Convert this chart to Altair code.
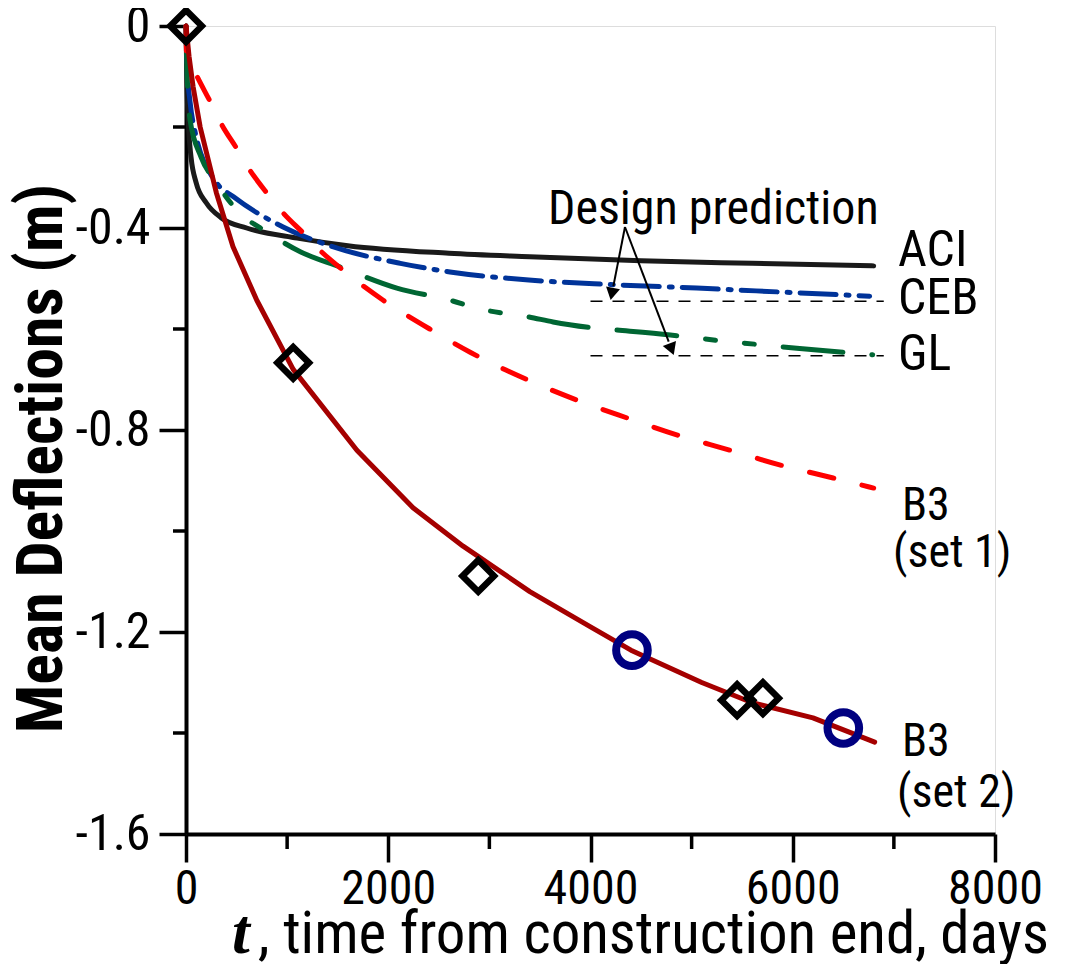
import altair as alt
import pandas as pd
import math

# ---------------- data ----------------
aci_t = [0, 10, 25, 50, 100, 200, 350, 600, 1100, 1600, 2600, 3400, 4500, 5600, 6800]
aci_v = [0, -0.12, -0.2, -0.26, -0.31, -0.35, -0.38, -0.40, -0.42, -0.435, -0.45, -0.457, -0.465, -0.47, -0.475]

ceb_t = [0, 10, 40, 90, 300, 470, 960, 1450, 2120, 2610, 3390, 4200, 5050, 5900, 6760]
ceb_v = [0, -0.08, -0.15, -0.21, -0.31, -0.338, -0.398, -0.437, -0.47, -0.487, -0.503, -0.512, -0.519, -0.527, -0.535]

gl_t = [0, 10, 40, 150, 300, 500, 800, 1130, 1520, 2085, 2610, 2900, 3390, 3630, 4790, 5050, 6040, 6790]
gl_v = [0, -0.09, -0.186, -0.26, -0.31, -0.364, -0.408, -0.447, -0.477, -0.519, -0.543, -0.560, -0.576, -0.586, -0.612, -0.618, -0.638, -0.651]

b31_t = [0, 5, 110, 240, 355, 500, 630, 800, 960, 1160, 1355, 1550, 1740, 1950, 2410, 2810, 3370, 3870, 4360, 4860, 5380, 5870, 6400, 6800]
b31_v = [0, -0.055, -0.10, -0.15, -0.196, -0.242, -0.285, -0.331, -0.370, -0.41, -0.45, -0.483, -0.513, -0.543, -0.60, -0.646, -0.70, -0.741, -0.776, -0.81, -0.84, -0.869, -0.895, -0.915]

b32_t = [0, 30, 70, 140, 300, 465, 700, 1060, 1690, 2245, 2740, 3400, 4000, 4400, 5100, 5600, 6200, 6810]
b32_v = [0, -0.06, -0.12, -0.20, -0.33, -0.437, -0.543, -0.68, -0.84, -0.954, -1.03, -1.12, -1.19, -1.236, -1.30, -1.34, -1.37, -1.418]

diamond_t = [0, 1060, 2890, 5450, 5705]
diamond_v = [0, -0.667, -1.089, -1.335, -1.331]

circle_t = [4410, 6500]
circle_v = [-1.236, -1.39]

design_t0 = [4000, 4000]
design_t1 = [6900, 6900]
design_v = [-0.545, -0.653]

arrow_t0 = [4341, 4341]
arrow_v0 = [-0.398, -0.398]
arrow_t1 = [4203, 4816]
arrow_v1 = [-0.5386, -0.6475]

label_text = ["ACI", "CEB", "GL"]
label_t = [7041, 7041, 7041]
label_v = [-0.4455, -0.5406, -0.6515]

set_text = ["B3", "(set 1)", "B3", "(set 2)"]
set_t = [7080, 6991, 7080, 7031]
set_v = [-0.95, -1.0436, -1.418, -1.519]

y_major = [0, -0.4, -0.8, -1.2, -1.6]
y_minor = [-0.2, -0.6, -1.0, -1.4]
x_major = [0, 2000, 4000, 6000, 8000]
x_minor = [1000, 3000, 5000, 7000]

# ---------------- layout ----------------
W, H = 809, 808
XDOM = [0, 8000]
YDOM = [-1.6, 0]
FONT = "Roboto Condensed"

xs = alt.Scale(domain=XDOM, nice=False, zero=False)
ys = alt.Scale(domain=YDOM, nice=False, zero=False)

AX = alt.Axis(values=x_major, format="d", title=None, tickSize=28,
              tickWidth=3.5, domainWidth=4, labelPadding=3,
              labelFontSize=48, labelFont=FONT, labelColor="black",
              domainColor="black", tickColor="black", grid=False, labelFlush=False)
AY = alt.Axis(values=y_major, title="Mean Deflections (m)",
              labelExpr="datum.value == 0 ? '0' : '-' + format(abs(datum.value), '.1f')",
              tickSize=27, tickWidth=3.5, domainWidth=4, labelPadding=9,
              labelFontSize=50, labelFont=FONT, labelColor="black",
              domainColor="black", tickColor="black", grid=False,
              titleFont=FONT, titleFontSize=64, titleFontWeight="bold",
              titleColor="black", titleAngle=270, titleX=-144, titleY=432,
              titleAlign="center", titleBaseline="middle", labelFlush=False)

def X(field):
    return alt.X(field, scale=xs, axis=AX)

def Y(field):
    return alt.Y(field, scale=ys, axis=AY)

def line(t, v, color, dash=None, interp="monotone", width=5):
    df = pd.DataFrame({"t": t, "v": v})
    kw = dict(color=color, strokeWidth=width, strokeCap="round", strokeJoin="round", interpolate=interp)
    if dash:
        kw["strokeDash"] = dash
    return alt.Chart(df).mark_line(**kw).encode(x=X("t:Q"), y=Y("v:Q"))

ym = alt.Chart(pd.DataFrame({"v": y_minor})).mark_rule(color="black", strokeWidth=3.5).encode(
    y=Y("v:Q"), x=alt.value(-13), x2=alt.value(0))
xm = alt.Chart(pd.DataFrame({"t": x_minor})).mark_rule(color="black", strokeWidth=3.5).encode(
    x=X("t:Q"), y=alt.value(H), y2=alt.value(H + 15))

design = alt.Chart(pd.DataFrame({"t0": design_t0, "t1": design_t1, "v": design_v})).mark_rule(
    color="black", strokeWidth=1.6, strokeDash=[12, 10]).encode(
    x=X("t0:Q"), x2="t1:Q", y=Y("v:Q"))

aci = line(aci_t, aci_v, "#1a1a1a")
ceb = line(ceb_t, ceb_v, "#003399", dash=[36, 10, 3, 10])
gl = line(gl_t, gl_v, "#006633", dash=[60, 29, 60, 29, 10, 29, 10, 29])
b31 = line(b31_t, b31_v, "#ff0000", dash=[25, 29])
b32 = line(b32_t, b32_v, "#a50000", interp="linear")

# arrows
px_t = W / (XDOM[1] - XDOM[0])
px_v = H / (YDOM[1] - YDOM[0])
tri_size = 200
tri_h = math.sqrt(3) * (math.sqrt(tri_size) / 2) / 2
rows = []
for a0, b0, a1, b1 in zip(arrow_t0, arrow_v0, arrow_t1, arrow_v1):
    dx = (a1 - a0) * px_t
    dy = -(b1 - b0) * px_v
    L = math.hypot(dx, dy)
    ang = math.degrees(math.atan2(dx, -dy)) % 360
    hx = a1 - (dx / L) * tri_h / px_t
    hy = b1 + (dy / L) * tri_h / px_v
    rows.append({"t0": a0, "v0": b0, "t1": hx - (dx / L) * 6 / px_t, "v1": hy + (dy / L) * 6 / px_v,
                 "ht": hx, "hv": hy, "ang": ang})
arr_df = pd.DataFrame(rows)
arrow_lines = alt.Chart(arr_df).mark_rule(color="black", strokeWidth=2).encode(
    x=X("t0:Q"), x2="t1:Q", y=Y("v0:Q"), y2="v1:Q")
arrow_heads = alt.Chart(arr_df).mark_point(shape="triangle", filled=True, color="black", opacity=1,
                                           size=tri_size).encode(
    x=X("ht:Q"), y=Y("hv:Q"), angle=alt.Angle("ang:Q", scale=None))

diamonds = alt.Chart(pd.DataFrame({"t": diamond_t, "v": diamond_v})).mark_point(
    shape="diamond", filled=False, color="black", strokeWidth=6.5, size=1000, opacity=1).encode(
    x=X("t:Q"), y=Y("v:Q"))
circles = alt.Chart(pd.DataFrame({"t": circle_t, "v": circle_v})).mark_point(
    shape="circle", filled=False, color="#000080", strokeWidth=8, size=1000, opacity=1).encode(
    x=X("t:Q"), y=Y("v:Q"))

labels = alt.Chart(pd.DataFrame({"txt": label_text, "t": label_t, "v": label_v})).mark_text(
    align="left", baseline="middle", font=FONT, fontSize=50, color="black").encode(
    x=X("t:Q"), y=Y("v:Q"), text="txt:N")
set_labels = alt.Chart(pd.DataFrame({"txt": set_text, "t": set_t, "v": set_v})).mark_text(
    align="left", baseline="middle", font=FONT, fontSize=46, color="black").encode(
    x=X("t:Q"), y=Y("v:Q"), text="txt:N")

design_label = alt.Chart(pd.DataFrame({"txt": ["Design prediction"], "t": [3580], "v": [-0.364]})).mark_text(
    align="left", baseline="middle", font=FONT, fontSize=48, color="black").encode(
    x=X("t:Q"), y=Y("v:Q"), text="txt:N")

xt_t = alt.Chart(pd.DataFrame({"txt": ["t"]})).mark_text(
    align="left", baseline="alphabetic", font="Liberation Serif", fontSize=64, fontStyle="italic",
    fontWeight="bold", color="black").encode(x=alt.value(46), y=alt.value(927), text="txt:N")
xt_rest = alt.Chart(pd.DataFrame({"txt": [", time from construction end, days"]})).mark_text(
    align="left", baseline="alphabetic", font=FONT, fontSize=59, color="black").encode(
    x=alt.value(72), y=alt.value(927), text="txt:N")

chart = alt.layer(
    ym, xm, design, aci, ceb, gl, b31, b32, arrow_lines, arrow_heads,
    diamonds, circles, labels, set_labels, design_label, xt_t, xt_rest
).properties(
    width=W, height=H,
    autosize=alt.AutoSizeParams(type="none"),
    padding={"left": 178, "top": 18, "right": 80, "bottom": 130},
).configure_view(stroke=None).configure(background="white")

chart.save("out.html", embed_options={"renderer": "svg", "actions": False})
